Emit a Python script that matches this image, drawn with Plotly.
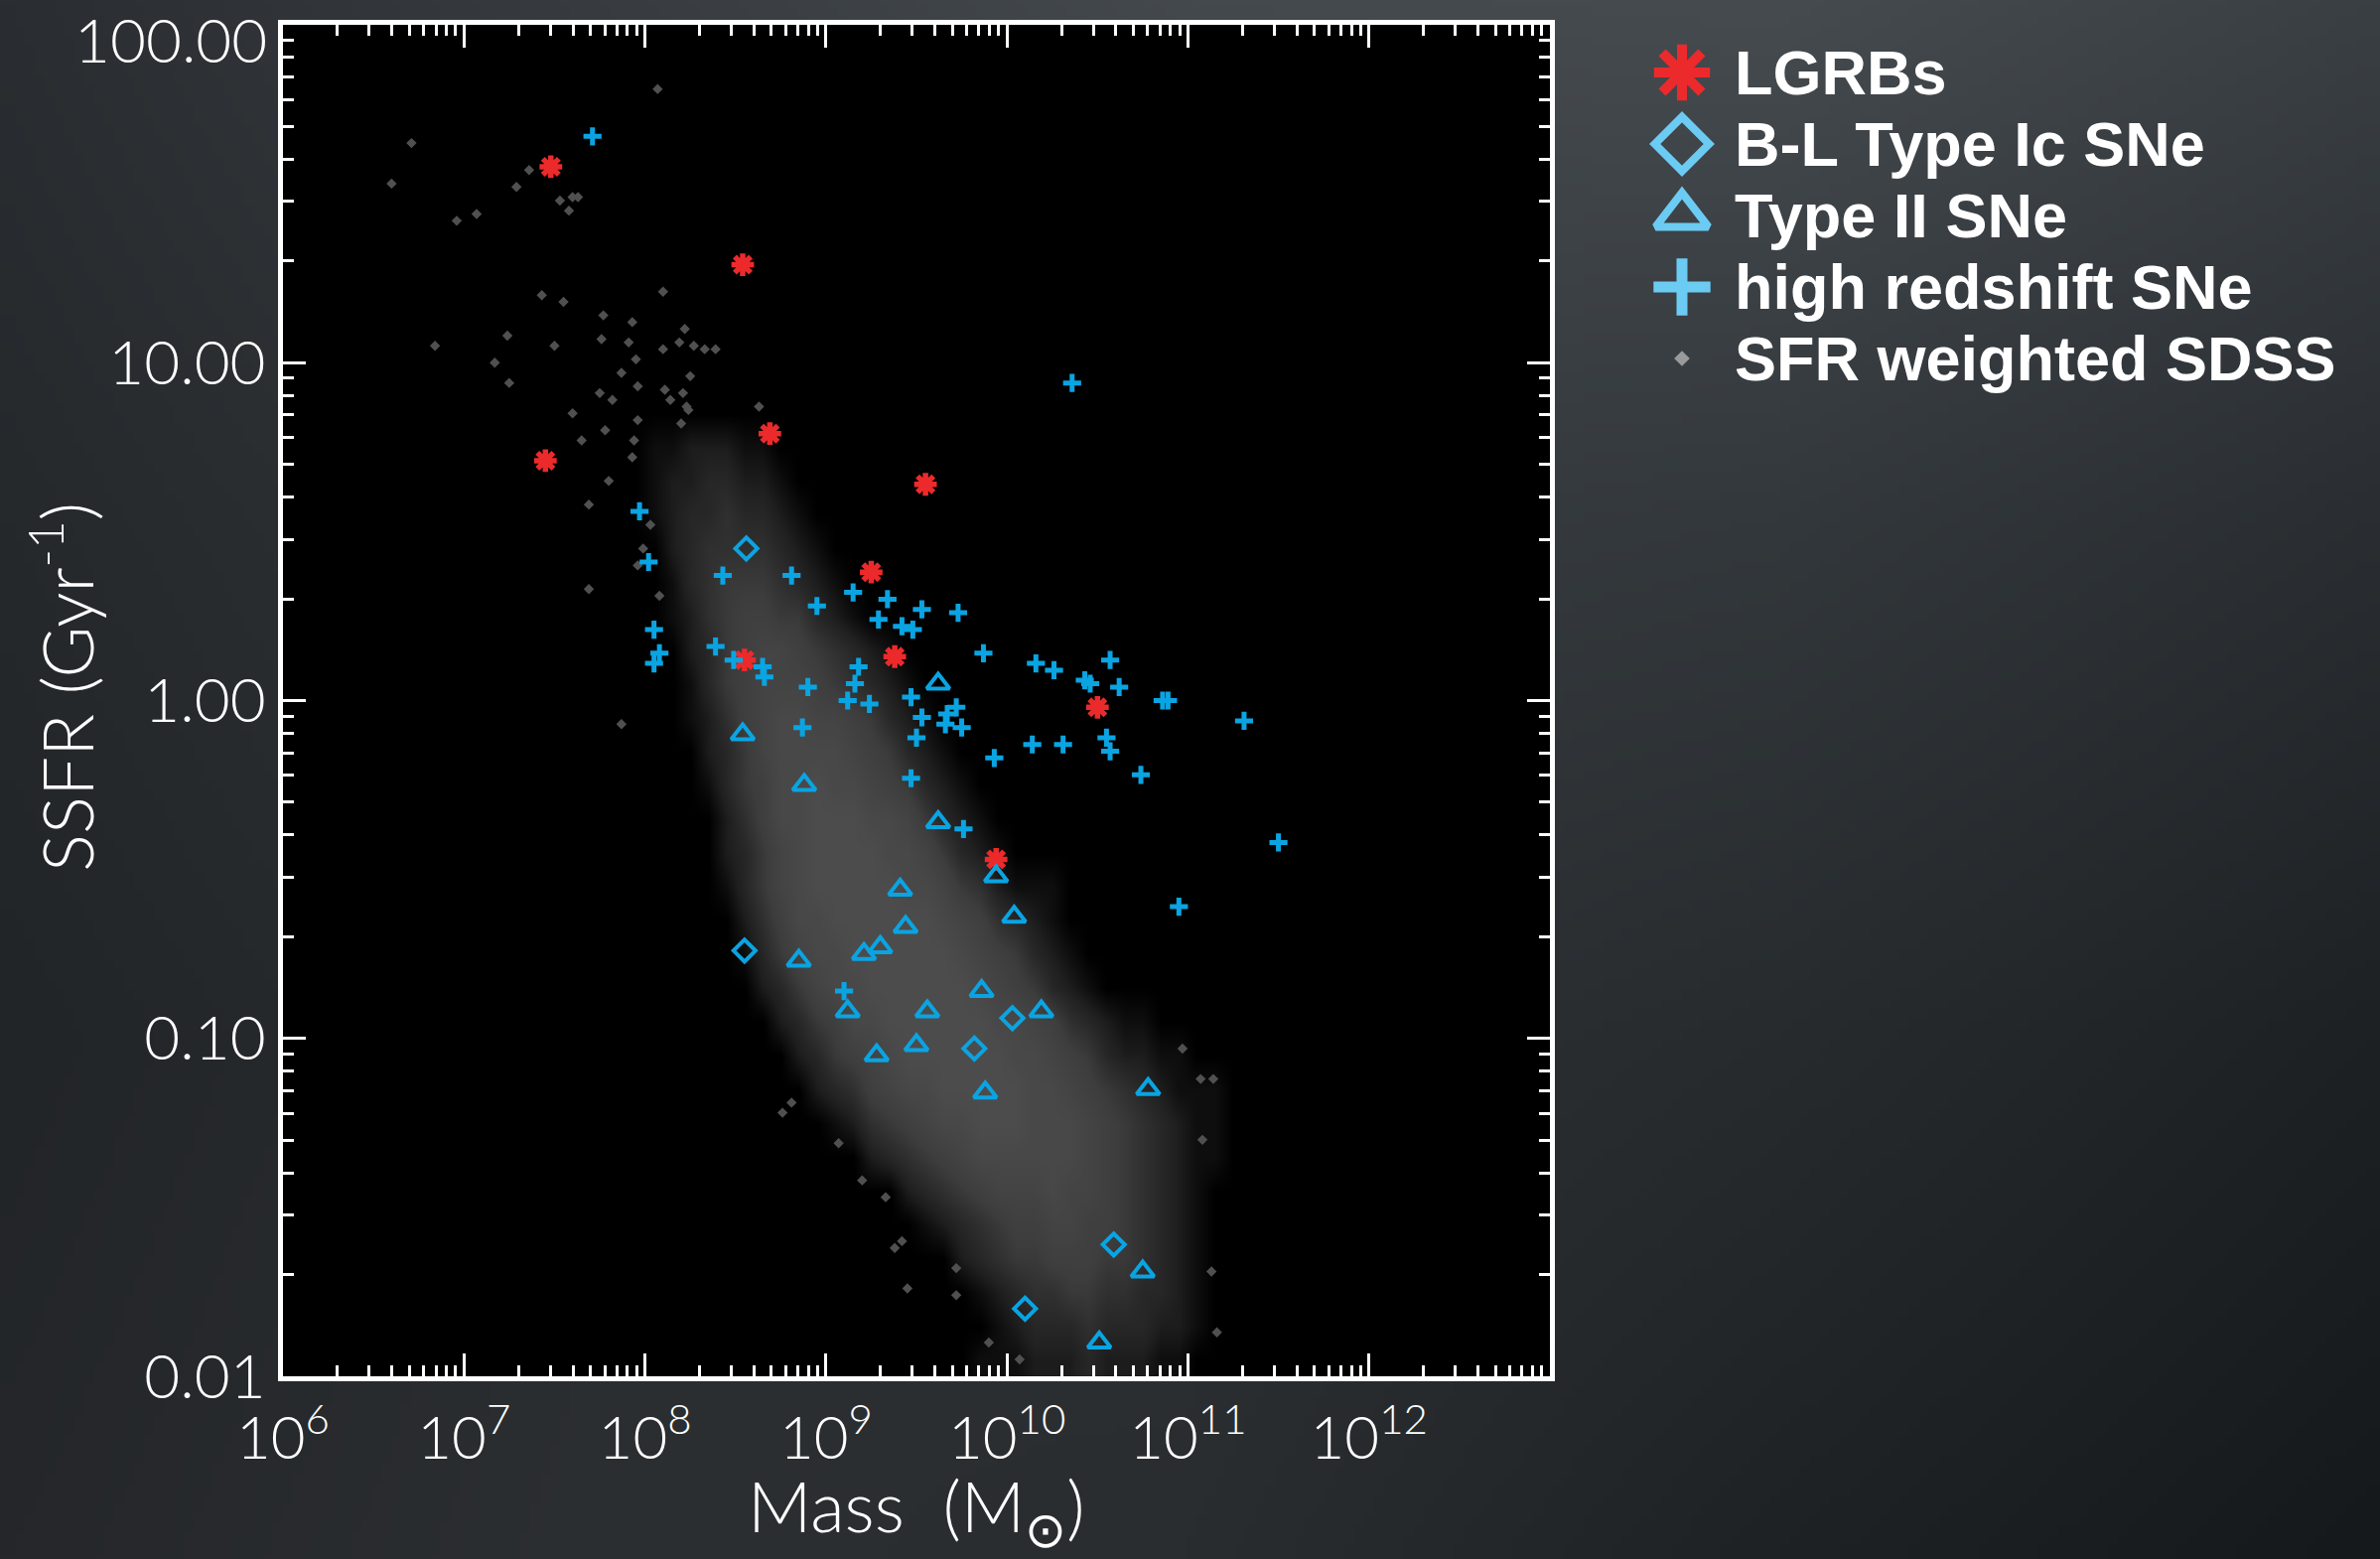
import base64
import struct
import zlib

import numpy as np
import plotly.graph_objects as go

W, H = 2397, 1570

# ---------------------------------------------------------------------------
# Data: log10 stellar mass [M_sun] and log10 specific SFR [Gyr^-1]
# ---------------------------------------------------------------------------
lgrb_logm = [7.48, 8.54, 8.69, 7.45, 9.55, 9.25, 9.38, 8.55, 10.50, 9.94]
lgrb_logs = [1.58, 1.29, 0.79, 0.71, 0.64, 0.38, 0.13, 0.12, -0.02, -0.47]

blic_logm = [8.56, 8.55, 10.03, 9.82, 10.59, 10.10]
blic_logs = [0.45, -0.74, -0.94, -1.03, -1.61, -1.80]

sn2_logm = [9.62, 8.54, 8.88, 9.62, 9.94, 9.41, 10.04, 9.44, 9.30, 9.21, 8.85,
            9.86, 9.12, 9.56, 10.19, 9.50, 9.28, 9.88, 10.78, 10.75, 10.51]
sn2_logs = [0.05, -0.10, -0.25, -0.36, -0.52, -0.56, -0.64, -0.67, -0.73, -0.75,
            -0.77, -0.86, -0.92, -0.92, -0.92, -1.02, -1.05, -1.16, -1.15, -1.69,
            -1.90]

hz_logm = [7.71, 7.97, 8.02, 8.43, 8.81, 9.15, 8.95, 9.34, 9.53, 9.73, 9.29,
           9.42, 9.48, 8.05, 8.08, 8.05, 8.39, 8.49, 8.65, 8.66, 9.87, 10.16,
           10.26, 9.18, 9.16, 8.90, 9.12, 9.24, 9.47, 9.72, 9.67, 9.66, 9.75,
           9.53, 9.50, 8.87, 9.93, 10.14, 10.31, 9.47, 9.76, 10.36, 10.57,
           10.43, 10.46, 10.62, 10.86, 10.89, 11.31, 10.55, 10.57, 10.74,
           11.50, 10.95, 9.10]
hz_logs = [1.67, 0.56, 0.41, 0.37, 0.37, 0.32, 0.28, 0.30, 0.27, 0.26, 0.24,
           0.22, 0.21, 0.21, 0.14, 0.11, 0.16, 0.12, 0.10, 0.07, 0.14, 0.11,
           0.09, 0.10, 0.05, 0.04, 0.00, -0.01, 0.01, -0.02, -0.04, -0.07,
           -0.08, -0.05, -0.11, -0.08, -0.17, -0.13, -0.13, -0.23, -0.38,
           0.94, 0.12, 0.06, 0.05, 0.04, 0.00, 0.00, -0.06, -0.11, -0.15,
           -0.22, -0.42, -0.61, -0.86]

# Isolated SDSS galaxies outside the dense locus
sdss_logm = [8.07, 6.71, 6.60, 7.36, 7.29, 7.53, 7.60, 7.63, 7.58, 6.96, 7.07,
             7.43, 7.55, 8.10, 7.77, 7.93, 8.22, 7.24, 6.84, 7.50, 7.76, 7.91,
             8.10, 8.19, 8.27, 8.33, 8.39, 7.17, 7.25, 7.95, 7.87, 8.25, 7.96,
             8.11, 8.21, 7.75, 7.82, 7.60, 8.14, 8.23, 8.24, 7.96, 8.20, 7.78,
             8.63, 7.65, 7.94, 7.93, 7.69, 7.80, 8.03, 7.69, 8.08, 7.99, 7.96,
             7.87,
             11.14, 11.07, 11.08, 10.97, 11.16, 11.13, 8.76, 8.81, 9.07, 9.20,
             9.33, 9.42, 9.38, 9.45, 9.72, 9.72, 9.90, 10.07]
sdss_logs = [1.81, 1.65, 1.53, 1.57, 1.52, 1.48, 1.49, 1.49, 1.45, 1.42, 1.44,
             1.20, 1.18, 1.21, 1.14, 1.12, 1.10, 1.08, 1.05, 1.05, 1.07, 1.06,
             1.04, 1.06, 1.05, 1.04, 1.04, 1.00, 0.94, 1.01, 0.97, 0.96, 0.93,
             0.92, 0.91, 0.91, 0.89, 0.85, 0.89, 0.87, 0.86, 0.83, 0.82, 0.80,
             0.87, 0.77, 0.77, 0.72, 0.58, 0.65, 0.52, 0.33, 0.31, 0.45, 0.40,
             -0.07,
             -1.12, -1.12, -1.30, -1.03, -1.87, -1.69, -1.22, -1.19, -1.31,
             -1.42, -1.47, -1.60, -1.62, -1.74, -1.76, -1.68, -1.90, -1.95]

# Dense SDSS locus: relative point density (0-9) in 0.1 dex cells.
# Columns start at log M = 7.95, rows run from log SSFR = 0.75 downward.
sdss_grid_logm0 = 7.95
sdss_grid_ncols = 34
sdss_grid_logs = [0.75, 0.65, 0.55, 0.45, 0.35, 0.25, 0.15, 0.05, -0.05, -0.15,
                  -0.25, -0.35, -0.45, -0.55, -0.65, -0.75, -0.85, -0.95, -1.05,
                  -1.15, -1.25, -1.35, -1.45, -1.55, -1.65, -1.75, -1.85, -1.95]
sdss_grid_rows = [
    "01122211",
    "012233221",
    "0123343321",
    "00234444321",
    "001345554321",
    "0012456655321",
    "000235677654321",
    "0001356777654321",
    "00012467887765321",
    "000023578888765321",
    "0000135688988765321",
    "00000246889998875321",
    "000002357899998875321",
    "000001357899999887542111",
    "000000246889999998764321",
    "0000001357889999998765321",
    "00000002357889999998765321",
    "00000000235688999999887643211",
    "0000000002356789999998876532211",
    "000000000023467889999988765432111",
    "000000000001245678899988876543211",
    "000000000000023456788888876543211",
    "00000000000000023456777877654321",
    "00000000000000001234566776654321",
    "00000000000000000023455666554321",
    "00000000000000000001234455443321",
    "00000000000000000000123334333221",
    "0000000000000000000111222322211",
]

x_tick_vals = [6, 7, 8, 9, 10, 11, 12, 13]
x_tick_text = ["10<sup>6</sup>", "10<sup>7</sup>", "10<sup>8</sup>",
               "10<sup>9</sup>", "10<sup>10</sup>", "10<sup>11</sup>",
               "10<sup>12</sup>", ""]
y_tick_vals = [-2, -1, 0, 1, 2]
y_tick_text = ["0.01", "0.10", "1.00", "10.00", "100.00"]

legend_labels = ["LGRBs", "B-L Type Ic SNe", "Type II SNe",
                 "high redshift SNe", "SFR weighted SDSS"]

# ---------------------------------------------------------------------------
# Styling
# ---------------------------------------------------------------------------
RED = "#ec2a2b"
BLUE = "#0aa4e2"
LIGHT_BLUE = "#6ccbf2"
GREY = "#505050"
FAMILY = "Lato, 'Open Sans', sans-serif"
X_TICK_FONT = dict(family=FAMILY, size=60, color="white", weight=300)
Y_TICK_FONT = dict(family=FAMILY, size=62, color="white", weight=300)
TITLE_FONT = dict(family=FAMILY, size=71, color="white", weight=300)
LEGEND_FONT = dict(family="'Liberation Sans', Arial, sans-serif", size=63,
                   color="white", weight="bold")

# plot frame in pixels
FX0, FX1, FY0, FY1 = 285, 1561, 25, 1386
x_dom = [FX0 / W, FX1 / W]
y_dom = [1 - FY1 / H, 1 - FY0 / H]


def png_uri(rgb):
    """Encode an (h, w, 3) uint8 array as a PNG data URI."""
    h, w, _ = rgb.shape
    raw = b"".join(b"\x00" + rgb[r].tobytes() for r in range(h))

    def chunk(tag, data):
        return (struct.pack(">I", len(data)) + tag + data
                + struct.pack(">I", zlib.crc32(tag + data) & 0xFFFFFFFF))

    png = (b"\x89PNG\r\n\x1a\n"
           + chunk(b"IHDR", struct.pack(">IIBBBBB", w, h, 8, 2, 0, 0, 0))
           + chunk(b"IDAT", zlib.compress(raw, 9))
           + chunk(b"IEND", b""))
    return "data:image/png;base64," + base64.b64encode(png).decode()


def hex_rgb(c):
    return [int(c[i:i + 2], 16) for i in (1, 3, 5)]


# slate backdrop, lit from the upper right
bg_knots = [
    ["#2a2e32", "#383c40", "#44494e", "#464b50", "#3a3f43"],
    ["#25292c", "#2f3336", "#373b3f", "#33383c", "#2a2e32"],
    ["#222528", "#2a2d30", "#2e3134", "#272b2e", "#1e2124"],
    ["#25272a", "#2c2f31", "#2a2d30", "#1f2225", "#16191c"],
]
knots = np.array([[hex_rgb(c) for c in row] for row in bg_knots], float)
bh, bw = 157, 240
ky = np.linspace(0, knots.shape[0] - 1, bh)
kx = np.linspace(0, knots.shape[1] - 1, bw)
y0 = np.clip(np.floor(ky).astype(int), 0, knots.shape[0] - 2)
x0 = np.clip(np.floor(kx).astype(int), 0, knots.shape[1] - 2)
fy = (ky - y0)[:, None, None]
fx = (kx - x0)[None, :, None]
top = knots[y0][:, x0] * (1 - fx) + knots[y0][:, x0 + 1] * fx
bot = knots[y0 + 1][:, x0] * (1 - fx) + knots[y0 + 1][:, x0 + 1] * fx
bg = np.clip(top * (1 - fy) + bot * fy, 0, 255).astype(np.uint8)

# ---------------------------------------------------------------------------
# Density grid, with an empty border so the smoothed image fades out
# ---------------------------------------------------------------------------
grid_z = np.array([[int(ch) for ch in row.ljust(sdss_grid_ncols, "0")]
                   for row in sdss_grid_rows], float)
grid_z = np.pad(grid_z, ((1, 0), (1, 1)))
grid_x = [round(sdss_grid_logm0 + 0.1 * (i - 1), 2)
          for i in range(grid_z.shape[1])]
grid_y = [round(sdss_grid_logs[0] + 0.1, 2)] + sdss_grid_logs

fig = go.Figure()

fig.add_trace(go.Heatmap(
    x=grid_x, y=grid_y, z=grid_z, zmin=0, zmax=9, zsmooth="best",
    colorscale=[[0, "rgba(76,76,76,0)"], [0.25, "rgba(76,76,76,0.42)"],
                [0.6, "rgba(76,76,76,0.8)"], [1, "rgba(76,76,76,1)"]],
    showscale=False, hoverinfo="skip"))

fig.add_trace(go.Scatter(
    x=sdss_logm, y=sdss_logs, mode="markers", name=legend_labels[4],
    marker=dict(symbol="diamond", size=8, color=GREY, line=dict(width=0))))

fig.add_trace(go.Scatter(
    x=lgrb_logm, y=lgrb_logs, mode="markers", name=legend_labels[0],
    marker=dict(symbol="asterisk-open", size=19, color=RED,
                line=dict(width=5.5, color=RED))))

fig.add_trace(go.Scatter(
    x=blic_logm, y=blic_logs, mode="markers", name=legend_labels[1],
    marker=dict(symbol="diamond-open", size=17, color=BLUE,
                line=dict(width=4, color=BLUE))))

fig.add_trace(go.Scatter(
    x=sn2_logm, y=sn2_logs, mode="markers", name=legend_labels[2],
    marker=dict(symbol="triangle-up-open", size=20, color=BLUE,
                line=dict(width=4, color=BLUE))))

fig.add_trace(go.Scatter(
    x=hz_logm, y=hz_logs, mode="markers", name=legend_labels[3],
    marker=dict(symbol="cross-thin-open", size=13, color=BLUE,
                line=dict(width=5, color=BLUE))))

# key on a pixel-space helper axis
legend_glyph_x = 1694
legend_text_x = 1745
legend_y0, legend_dy = 73, 72
key_styles = [
    dict(symbol="asterisk-open", size=47, color=RED, line=dict(width=10, color=RED)),
    dict(symbol="diamond-open", size=42, color=LIGHT_BLUE, line=dict(width=8, color=LIGHT_BLUE)),
    dict(symbol="triangle-up-open", size=46, color=LIGHT_BLUE, line=dict(width=8, color=LIGHT_BLUE)),
    dict(symbol="cross-thin-open", size=41, color=LIGHT_BLUE, line=dict(width=11, color=LIGHT_BLUE)),
    dict(symbol="diamond", size=12, color="#9a9a9a", line=dict(width=0)),
]
annotations = []
for i, (label, style) in enumerate(zip(legend_labels, key_styles)):
    row_y = legend_y0 + i * legend_dy
    fig.add_trace(go.Scatter(
        x=[legend_glyph_x], y=[row_y], mode="markers", marker=style,
        xaxis="x2", yaxis="y2", hoverinfo="skip", showlegend=False))
    annotations.append(dict(
        text=label, xref="paper", yref="paper", x=legend_text_x / W,
        y=1 - row_y / H, xanchor="left", yanchor="middle", showarrow=False,
        font=LEGEND_FONT))

annotations.append(dict(
    text="Mass  (M<sub>⊙</sub>)", xref="paper", yref="paper",
    x=(FX0 + FX1) / 2 / W, y=1 - 1521 / H, xanchor="center", yanchor="middle",
    showarrow=False, font=TITLE_FONT))
annotations.append(dict(
    text="SSFR (Gyr<sup>-1</sup>)", xref="paper", yref="paper",
    x=62 / W, y=1 - 692 / H, xanchor="center", yanchor="middle",
    textangle=-90, showarrow=False, font=TITLE_FONT))

# the top y label sits at the frame edge; draw it nudged down inside the page
top_label = y_tick_text[-1]
y_tick_text_axis = y_tick_text[:-1] + [""]
annotations.append(dict(
    text=top_label, xref="paper", yref="y", x=(FX0 - 14) / W,
    y=y_tick_vals[-1], yshift=-14, xanchor="right", yanchor="middle",
    showarrow=False, font=Y_TICK_FONT))

minor_x = [d + np.log10(k) for d in range(6, 13) for k in range(2, 10)]
minor_y = [d + np.log10(k) for d in range(-2, 2) for k in range(2, 10)]

axis_common = dict(
    showgrid=False, zeroline=False, showline=True, linecolor="white",
    linewidth=5, mirror="allticks", ticks="inside", ticklen=23, tickwidth=3,
    tickcolor="white", tickmode="array", automargin=False,
    ticklabeloverflow="allow")

fig.update_layout(
    width=W, height=H, autosize=False,
    margin=dict(l=0, r=0, t=0, b=0, pad=0, autoexpand=False),
    paper_bgcolor="#2a2d30", plot_bgcolor="rgba(0,0,0,0)",
    showlegend=False,
    xaxis=dict(domain=x_dom, range=[6, 13], tickvals=x_tick_vals,
               ticktext=x_tick_text, ticklabelstandoff=6,
               tickfont=X_TICK_FONT,
               minor=dict(ticks="inside", ticklen=11, tickwidth=3,
                          tickcolor="white", tickmode="array",
                          tickvals=minor_x, showgrid=False),
               **axis_common),
    yaxis=dict(domain=y_dom, range=[-2, 2], tickvals=y_tick_vals,
               ticktext=y_tick_text_axis, ticklabelstandoff=0,
               tickfont=Y_TICK_FONT,
               minor=dict(ticks="inside", ticklen=11, tickwidth=3,
                          tickcolor="white", tickmode="array",
                          tickvals=minor_y, showgrid=False),
               **axis_common),
    xaxis2=dict(domain=[0, 1], range=[0, W], visible=False, anchor="y2",
                fixedrange=True),
    yaxis2=dict(domain=[0, 1], range=[H, 0], visible=False, anchor="x2",
                fixedrange=True),
    shapes=[dict(type="rect", xref="paper", yref="paper", x0=x_dom[0],
                 x1=x_dom[1], y0=y_dom[0], y1=y_dom[1], fillcolor="black",
                 line=dict(width=0), layer="below")],
    images=[dict(source=png_uri(bg), xref="paper", yref="paper", x=0, y=1,
                 sizex=1, sizey=1, xanchor="left", yanchor="top",
                 sizing="stretch", layer="below")],
    annotations=annotations,
)

fig.write_html("out.html", config={"displayModeBar": False})
